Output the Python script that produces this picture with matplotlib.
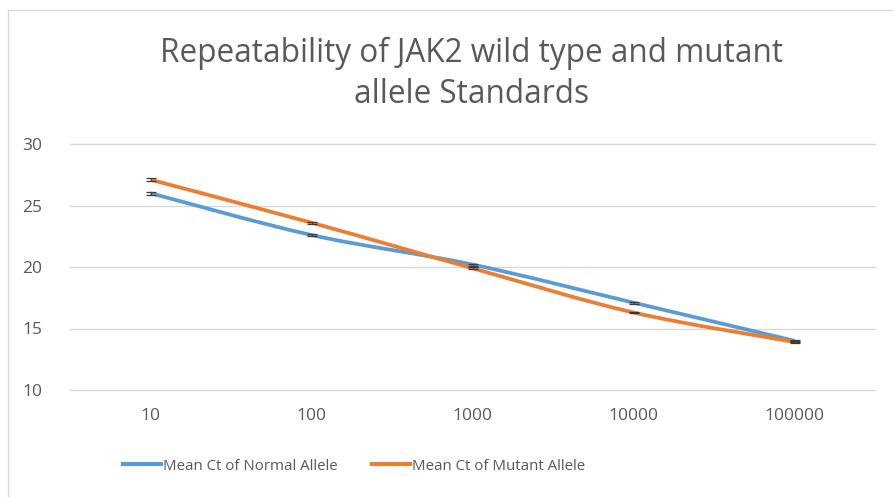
import numpy as np
import matplotlib.pyplot as plt
from matplotlib.path import Path
from matplotlib.patches import PathPatch, Rectangle
from matplotlib.lines import Line2D

# copies per reaction and mean Ct values
dilutions = ['10', '100', '1000', '10000', '100000']
normal_ct = [26.0, 22.6, 20.2, 17.1, 14.0]
mutant_ct = [27.1, 23.6, 19.9, 16.3, 13.9]
normal_err = [0.12, 0.08, 0.08, 0.08, 0.1]
mutant_err = [0.12, 0.08, 0.08, 0.08, 0.1]

blue = '#5B9BD5'
orange = '#ED7D31'
grey_text = '#595959'


def smooth_path(xs, ys, tension=1 / 6):
    # Catmull-Rom style bezier through the points
    xs = np.asarray(xs, float)
    ys = np.asarray(ys, float)
    n = len(xs)
    verts = [(xs[0], ys[0])]
    codes = [Path.MOVETO]
    for i in range(n - 1):
        p0 = i - 1 if i > 0 else i
        p3 = i + 2 if i + 2 < n else i + 1
        c1 = (xs[i] + (xs[i + 1] - xs[p0]) * tension, ys[i] + (ys[i + 1] - ys[p0]) * tension)
        c2 = (xs[i + 1] - (xs[p3] - xs[i]) * tension, ys[i + 1] - (ys[p3] - ys[i]) * tension)
        verts += [c1, c2, (xs[i + 1], ys[i + 1])]
        codes += [Path.CURVE4] * 3
    return Path(verts, codes)


plt.rcParams['font.family'] = ['Open Sans', 'DejaVu Sans']

fig = plt.figure(figsize=(8.93, 4.97), dpi=100)
fig.patches.append(Rectangle((8 / 893, -0.01), 1.0, 1 - 10 / 497 + 0.01, transform=fig.transFigure,
                             fill=False, edgecolor='#D9D9D9', linewidth=1.0))

ax = fig.add_axes([70 / 893, 1 - 390 / 497, 805 / 893, 246 / 497])
x = np.arange(len(dilutions))

for ys, err, col in [(normal_ct, normal_err, blue), (mutant_ct, mutant_err, orange)]:
    ax.add_patch(PathPatch(smooth_path(x, ys), facecolor='none', edgecolor=col,
                           linewidth=2.7, capstyle='butt', zorder=3))
    ax.errorbar(x, ys, yerr=err, fmt='none', ecolor='#3a3a3a', elinewidth=0.6,
                capsize=3.5, capthick=0.9, zorder=4)

ax.set_xlim(-0.5, len(dilutions) - 0.5)
ax.set_ylim(10, 30)
ax.set_yticks([10, 15, 20, 25, 30])
ax.set_xticks(x)
ax.set_xticklabels(dilutions)
ax.grid(axis='y', color='#D9D9D9', linewidth=1.0)
for gl in ax.get_ygridlines():
    gl.set_clip_on(False)
ax.set_axisbelow(True)
for s in ax.spines.values():
    s.set_visible(False)
ax.tick_params(length=0, colors=grey_text, labelsize=12.5)
ax.tick_params(axis='x', pad=13)
ax.tick_params(axis='y', pad=20)

fig.text(472 / 893, 1 - 74 / 497, 'Repeatability of JAK2 wild type and mutant\nallele Standards',
         ha='center', va='center', fontsize=22.7, color=grey_text, linespacing=1.3)

handles = [Line2D([], [], color=blue, linewidth=3),
           Line2D([], [], color=orange, linewidth=3)]
fig.legend(handles, ['Mean Ct of Normal Allele', 'Mean Ct of Mutant Allele'],
           loc='center', bbox_to_anchor=(354 / 893, 1 - 466 / 497), ncol=2, frameon=False,
           fontsize=10.8, labelcolor=grey_text, handlelength=2.5, handletextpad=0.15,
           columnspacing=2.3)

fig.savefig('out.png', dpi=100)
